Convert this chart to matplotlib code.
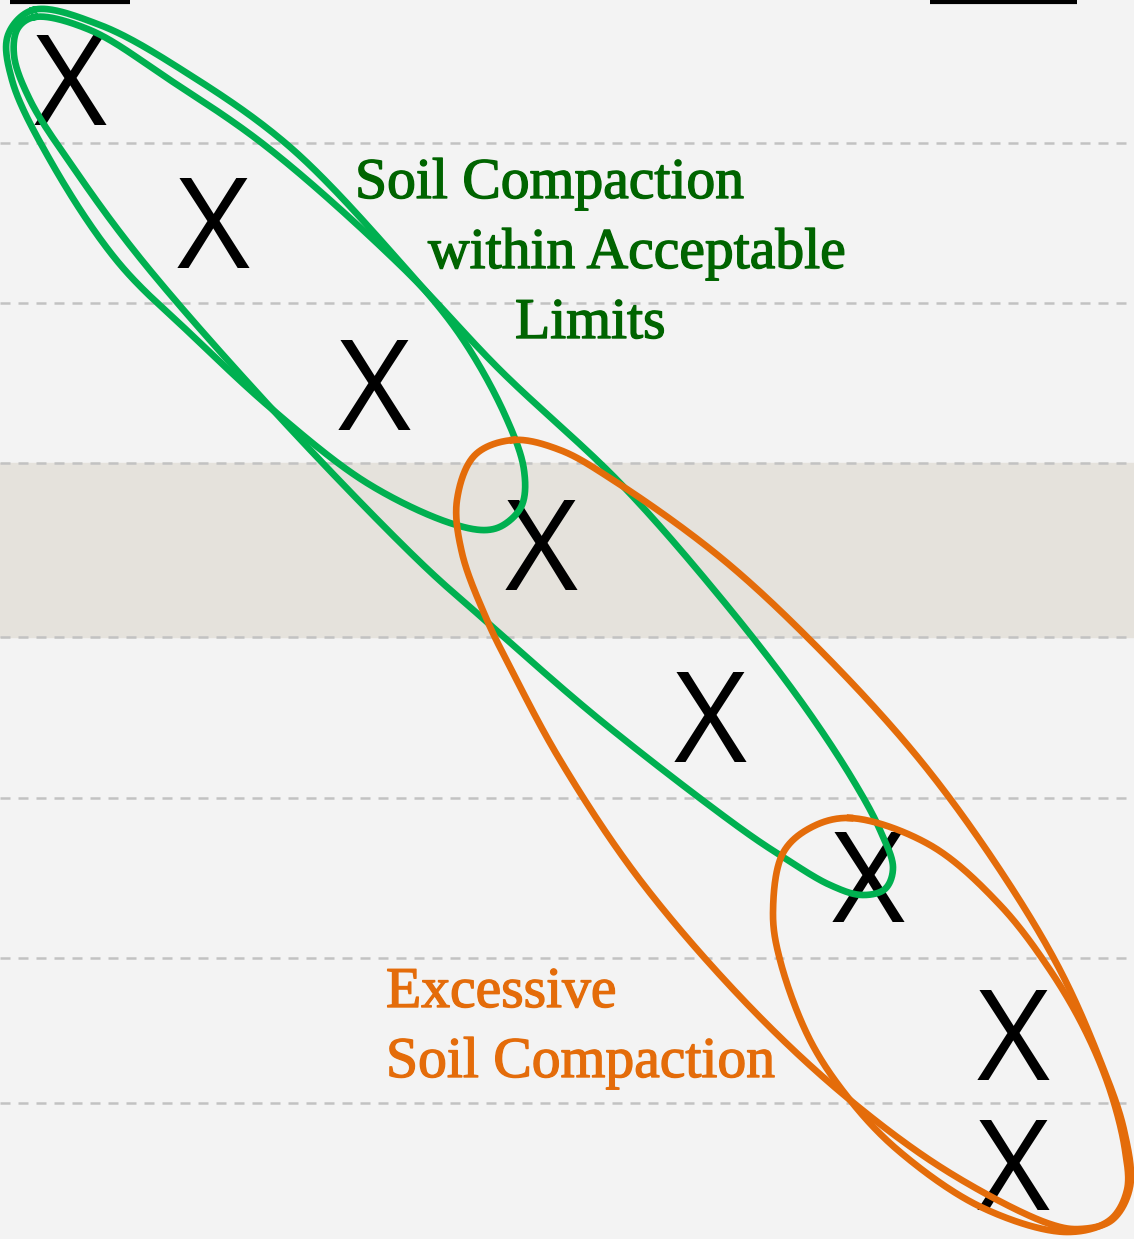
import numpy as np
import matplotlib
matplotlib.use("Agg")
import matplotlib.pyplot as plt
import matplotlib.patheffects as pe

# ---- data (in chart units: x to the right, y downwards) ----
point_x = [70, 213, 374, 541, 710, 868, 1013, 1013]
point_y = [80, 223, 385, 545, 717, 877, 1035, 1165]
point_label = "X"

grid_y = [143, 303, 463, 637, 798, 958, 1103]
band_y = [463, 637]
top_rules = [[10, 130], [930, 1077]]

green_title = ["Soil Compaction", "within Acceptable", "Limits"]
orange_title = ["Excessive", "Soil Compaction"]

# hand-drawn annotation loops (outline control points)
loop_green_small = [(33, 10), (100, 25), (190, 75), (290, 147), (400, 262), (460, 335),
                    (505, 415), (524, 470), (522, 505), (505, 524), (487, 530), (450, 523),
                    (367, 483), (273, 410), (195, 338), (118, 262), (50, 160), (12, 80), (8, 35)]
loop_green_large = [(35, 17), (90, 30), (170, 80), (267, 147), (400, 265), (500, 370),
                    (620, 483), (720, 597), (800, 700), (853, 780), (880, 830), (893, 868),
                    (885, 889), (862, 895), (830, 885), (783, 857), (740, 828), (600, 720),
                    (487, 622), (420, 562), (273, 410), (140, 258), (75, 170), (30, 100),
                    (14, 55), (18, 28)]
loop_orange_large = [(513, 440), (560, 450), (613, 480), (720, 557), (820, 650), (920, 760),
                     (1000, 870), (1060, 970), (1100, 1060), (1124, 1130), (1130, 1187),
                     (1112, 1220), (1080, 1229), (1050, 1224), (950, 1173), (850, 1100),
                     (750, 1007), (640, 880), (560, 760), (510, 667), (487, 620), (462, 553),
                     (457, 500), (475, 455)]
loop_orange_small = [(850, 818), (930, 845), (1000, 905), (1050, 970), (1085, 1030),
                     (1110, 1090), (1125, 1150), (1127, 1190), (1110, 1220), (1067, 1232),
                     (983, 1208), (900, 1152), (850, 1100), (810, 1040), (780, 960),
                     (773, 913), (783, 853), (810, 828)]

GREEN = "#00b050"
DKGREEN = "#006400"
ORANGE = "#e46c0a"


def closed_spline(pts, n=40, alpha=0.5):
    """Closed centripetal Catmull-Rom spline."""
    P = np.asarray(pts, dtype=float)
    N = len(P)
    u = np.linspace(0, 1, n, endpoint=False)[:, None]
    segs = []
    for i in range(N):
        p0, p1, p2, p3 = P[i - 1], P[i], P[(i + 1) % N], P[(i + 2) % N]
        t0 = 0.0
        t1 = t0 + np.linalg.norm(p1 - p0) ** alpha
        t2 = t1 + np.linalg.norm(p2 - p1) ** alpha
        t3 = t2 + np.linalg.norm(p3 - p2) ** alpha
        t = t1 + (t2 - t1) * u
        A1 = (t1 - t) / (t1 - t0) * p0 + (t - t0) / (t1 - t0) * p1
        A2 = (t2 - t) / (t2 - t1) * p1 + (t - t1) / (t2 - t1) * p2
        A3 = (t3 - t) / (t3 - t2) * p2 + (t - t2) / (t3 - t2) * p3
        B1 = (t2 - t) / (t2 - t0) * A1 + (t - t0) / (t2 - t0) * A2
        B2 = (t3 - t) / (t3 - t1) * A2 + (t - t1) / (t3 - t1) * A3
        C = (t2 - t) / (t2 - t1) * B1 + (t - t1) / (t2 - t1) * B2
        segs.append(C)
    out = np.vstack(segs)
    return np.vstack([out, out[:1]])


W, H = 1134, 1239
fig = plt.figure(figsize=(W / 100, H / 100), dpi=100)
fig.patch.set_facecolor("#f3f3f3")
ax = fig.add_axes([0, 0, 1, 1])
ax.set_facecolor("#f3f3f3")
ax.set_xlim(0, W)
ax.set_ylim(H, 0)
ax.axis("off")

ax.axhspan(band_y[0], band_y[1], color="#e5e2dc", zorder=0)
for gy in grid_y:
    ax.axhline(gy, color="#c2c2c2", lw=1.8, ls=(0, (4.0, 3.2)), zorder=1)
for x0, x1 in top_rules:
    ax.plot([x0, x1], [1.5, 1.5], color="black", lw=3.0, solid_capstyle="butt", zorder=2)

for xs, ys in zip(point_x, point_y):
    ax.text(xs, ys + 45, point_label, fontsize=91, family="Open Sans", ha="center",
            va="baseline", color="black", zorder=3)

for loop, col in [(loop_green_small, GREEN), (loop_green_large, GREEN),
                  (loop_orange_large, ORANGE), (loop_orange_small, ORANGE)]:
    c = closed_spline(loop)
    ax.plot(c[:, 0], c[:, 1], color=col, lw=4.8, solid_joinstyle="round", zorder=4)

font = dict(family="Liberation Serif", fontsize=41.5)
for txt, x, y, col in [(green_title[0], 355, 198, DKGREEN),
                       (green_title[1], 428, 268, DKGREEN),
                       (green_title[2], 515, 338, DKGREEN),
                       (orange_title[0], 386, 1007, ORANGE),
                       (orange_title[1], 386, 1077, ORANGE)]:
    t = ax.text(x, y, txt, color=col, ha="left", va="baseline", zorder=5, **font)
    t.set_path_effects([pe.withStroke(linewidth=1.0, foreground=col)])

fig.savefig("out.png", dpi=100, facecolor=fig.get_facecolor())
